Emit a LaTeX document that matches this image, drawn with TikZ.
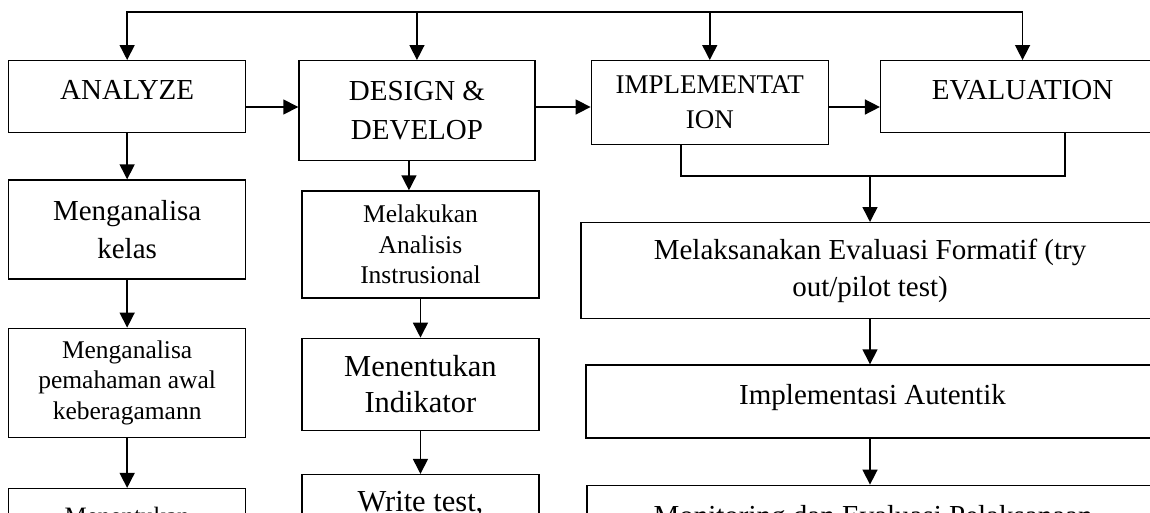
\documentclass[tikz,border=0pt]{standalone}
\usepackage{fontspec}
\setmainfont{Liberation Serif}
\usetikzlibrary{positioning, arrows.meta}
\tikzset{stage/.style={draw, rectangle, line width=1.3pt, inner sep=0pt, align=center, anchor=north west}}
\tikzset{arr/.style={-{Triangle[length=15pt,width=15pt]}, line width=1.5pt}}
\tikzset{txtbig/.style={font=\fontsize{30.5}{36}\selectfont}}
\tikzset{txtnorm/.style={font=\fontsize{29}{38}\selectfont}}
\tikzset{txtmid/.style={font=\fontsize{27}{35}\selectfont}}
\tikzset{txtsmall/.style={font=\fontsize{25.5}{30.5}\selectfont}}

\begin{document}
\begin{tikzpicture}[x=1pt, y=-1pt]
		\path[use as bounding box, fill=white] (0,0) rectangle (1150,512);
		\clip (0,0) rectangle (1150,512);
		% Draw the four stages
		\node[stage, txtnorm, minimum width=237pt, minimum height=72pt, text depth=14pt] (analyze) at (8,60) {ANALYZE};
		\node[stage, txtnorm, font=\fontsize{29}{39}\selectfont, minimum width=236pt, minimum height=100pt, right=52pt of analyze.north east, anchor=north west] (design) {DESIGN \&\\DEVELOP};
		\node[stage, txtmid, minimum width=237pt, minimum height=84pt, right=55pt of design.north east, anchor=north west] (implement) {IMPLEMENTAT\\ION};
		\node[stage, txtnorm, minimum width=284pt, minimum height=72pt, text depth=14pt, right=51pt of implement.north east, anchor=north west] (evaluation) {EVALUATION};
		% Helper points
		\coordinate (bus) at (0,12);
		\coordinate (row) at (0,107);
		\coordinate (brL) at (681,0);
		\coordinate (brR) at (1065,0);
		\coordinate (join) at (870,176);
		% Left column
		\node[stage, txtnorm, minimum width=237pt, minimum height=99pt, below=46pt of analyze.south west, anchor=north west] (kelas) {Menganalisa\\kelas};
		\node[stage, txtsmall, minimum width=237pt, minimum height=109pt, below=48pt of kelas.south west, anchor=north west] (pemahaman) {Menganalisa\\pemahaman awal\\keberagamann};
		\node[stage, font=\fontsize{25}{30}\selectfont, minimum width=237pt, minimum height=100pt, text depth=45pt, below=50pt of pemahaman.south west, anchor=north west] (tujuan) {Menentukan};
		% Middle column
		\node[stage, txtsmall, minimum width=237pt, minimum height=107pt, below=29pt of design.south west, anchor=north west, xshift=3pt] (melakukan) {Melakukan\\Analisis\\Instrusional};
		\node[stage, txtbig, minimum width=237pt, minimum height=92pt, below=39pt of melakukan.south west, anchor=north west] (indikator) {Menentukan\\Indikator};
		\node[stage, txtbig, minimum width=237pt, minimum height=100pt, text depth=47pt, below=43pt of indikator.south west, anchor=north west] (writetest) {Write test,};
		% Right column
		\node[stage, font=\fontsize{29}{37}\selectfont, minimum width=578pt, minimum height=96pt, below=46pt of join] (formatif) {Melaksanakan Evaluasi Formatif (try\\out/pilot test)};
		\node[stage, txtnorm, minimum width=573pt, minimum height=73pt, text depth=14.5pt, below=45pt of formatif.south west, anchor=north west, xshift=5pt] (autentik) {Implementasi Autentik};
		\node[stage, txtnorm, minimum width=572pt, minimum height=100pt, text depth=40pt, below=46pt of autentik.south west, anchor=north west, xshift=1pt] (monitoring) {Monitoring dan Evaluasi Pelaksanaan};
		% Draw the arrows
		\draw[{Triangle[length=15pt,width=15pt]}-{Triangle[length=15pt,width=15pt]}, line width=1.5pt] (analyze.north) -- (analyze.north |- bus) -- (evaluation.north |- bus) -- (evaluation.north);
		\draw[arr] (design.north |- bus) -- (design.north);
		\draw[arr] (implement.north |- bus) -- (implement.north);
		\draw[arr] (analyze.east |- row) -- (design.west |- row);
		\draw[arr] (design.east |- row) -- (implement.west |- row);
		\draw[arr] (implement.east |- row) -- (evaluation.west |- row);
		\draw[arr] (analyze.south) -- (kelas.north);
		\draw[arr] (kelas.south) -- (pemahaman.north);
		\draw[arr] (pemahaman.south) -- (tujuan.north);
		\draw[arr] ([xshift=-8pt]design.south) -- ([xshift=-8pt]design.south |- melakukan.north);
		\draw[arr] (melakukan.south) -- (indikator.north);
		\draw[arr] (indikator.south) -- (writetest.north);
		\draw[line width=1.3pt] (implement.south -| brL) |- (join) -| (evaluation.south -| brR);
		\draw[arr] (join) -- (formatif.north);
		\draw[arr] (formatif.south -| join) -- (autentik.north -| join);
		\draw[arr] (autentik.south -| join) -- (monitoring.north -| join);
	\end{tikzpicture}
\end{document}
